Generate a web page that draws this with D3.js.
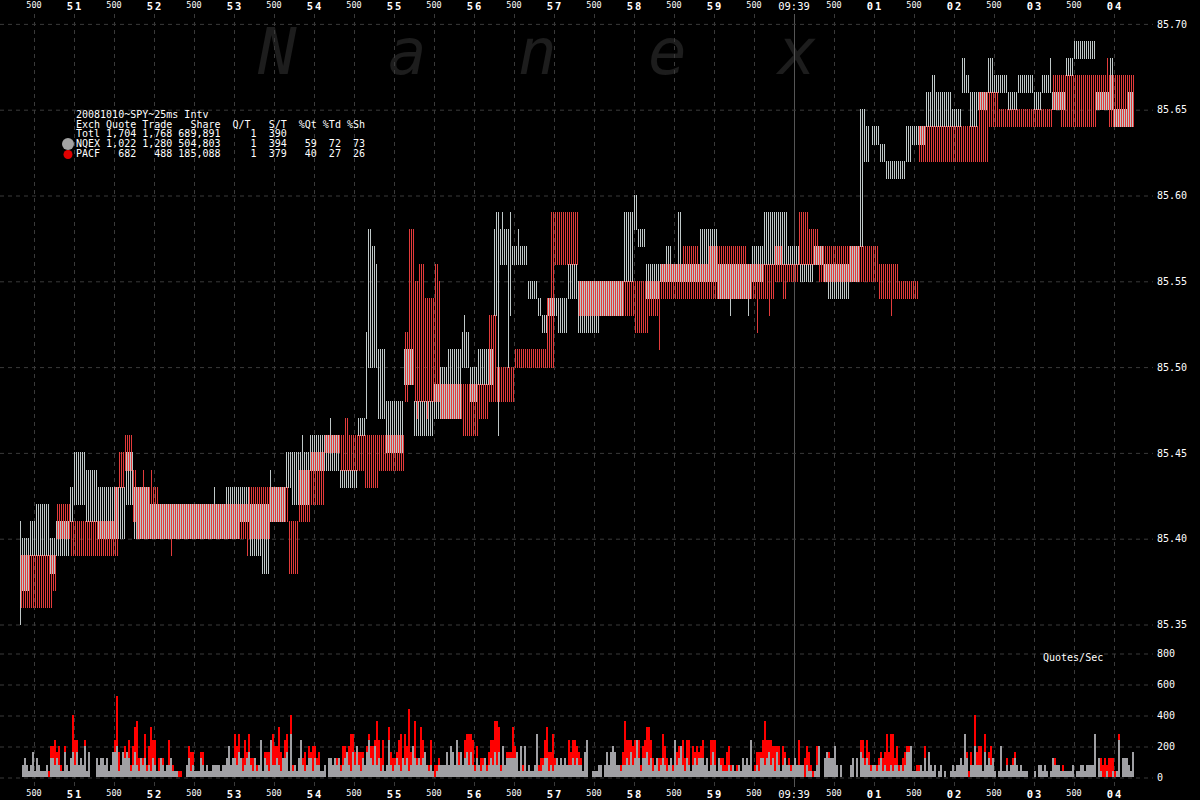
<!DOCTYPE html>
<html><head><meta charset="utf-8">
<script src="https://cdn.jsdelivr.net/npm/d3@7"></script>
<style>
html,body{margin:0;padding:0;background:#000;}
svg{display:block;}
text{font-family:"DejaVu Sans Mono",monospace;}
</style></head>
<body><svg id="chart" width="1200" height="800"></svg>
<script>
// ---- DATA (time = seconds after 09:38:50, prices in $) ----
const halfLabel = "500";
const secondLabels = ["51","52","53","54","55","56","57","58","59","09:39","01","02","03","04"];
const priceTicks = [85.35, 85.40, 85.45, 85.50, 85.55, 85.60, 85.65, 85.70];
const volumeTicks = [0, 200, 400, 600, 800];
const intervalSec = 0.025;

// quote ranges per 25ms interval: [tStart, tEnd, low, high]
const nqexQuotes = [
[0.325,0.35,85.35,85.41],[0.35,0.45,85.37,85.40],[0.45,0.525,85.39,85.41],[0.525,0.70,85.39,85.42],
[0.70,0.775,85.38,85.40],[0.775,0.95,85.39,85.41],[0.95,1.0,85.41,85.43],[1.0,1.15,85.42,85.45],
[1.15,1.30,85.41,85.44],[1.30,1.65,85.40,85.43],[1.65,1.75,85.42,85.45],[1.75,1.95,85.40,85.43],
[1.95,2.75,85.40,85.42],[2.75,2.775,85.40,85.43],[2.775,2.90,85.40,85.42],[2.90,3.075,85.40,85.43],
[3.075,3.20,85.41,85.43],[3.20,3.35,85.39,85.42],[3.35,3.45,85.38,85.42],[3.45,3.475,85.41,85.44],
[3.475,3.65,85.41,85.43],[3.65,3.725,85.43,85.45],[3.725,3.95,85.42,85.45],[3.85,3.875,85.42,85.46],
[3.95,4.125,85.44,85.46],[4.125,4.325,85.44,85.46],[4.20,4.225,85.44,85.47],[4.325,4.55,85.43,85.44],
[4.55,4.65,85.46,85.47],[4.65,4.675,85.47,85.52],[4.675,4.725,85.50,85.58],[4.725,4.775,85.50,85.57],
[4.775,4.80,85.50,85.56],[4.80,4.90,85.47,85.51],[4.90,5.125,85.45,85.48],[5.125,5.25,85.49,85.51],
[5.25,5.50,85.46,85.48],[5.50,5.575,85.47,85.49],[5.575,5.675,85.47,85.50],[5.675,5.85,85.47,85.51],
[5.85,5.95,85.50,85.52],[5.875,5.90,85.50,85.53],[5.95,6.05,85.48,85.50],[6.05,6.25,85.49,85.51],
[6.25,6.325,85.53,85.58],[6.275,6.30,85.53,85.59],[6.30,6.325,85.46,85.59],[6.325,6.45,85.56,85.58],
[6.35,6.375,85.56,85.59],[6.425,6.45,85.50,85.58],[6.45,6.475,85.53,85.59],[6.475,6.675,85.56,85.57],
[6.55,6.575,85.56,85.58],[6.675,6.80,85.54,85.55],[6.80,6.85,85.53,85.54],[6.85,6.925,85.52,85.53],
[6.925,7.05,85.53,85.54],[7.05,7.175,85.52,85.54],[7.175,7.30,85.54,85.56],[7.30,7.575,85.52,85.55],
[7.575,7.875,85.53,85.55],[7.875,8.0,85.55,85.59],[8.0,8.05,85.58,85.60],[8.05,8.15,85.57,85.58],
[8.15,8.325,85.54,85.56],[8.325,8.40,85.55,85.56],[8.40,8.475,85.55,85.57],[8.475,8.55,85.55,85.56],
[8.55,8.60,85.55,85.59],[8.60,8.825,85.55,85.56],[8.825,9.05,85.55,85.58],[9.05,9.475,85.54,85.56],
[9.20,9.225,85.53,85.56],[9.425,9.45,85.53,85.56],[9.475,9.625,85.55,85.57],[9.625,9.925,85.56,85.59],
[9.925,10.075,85.56,85.57],[10.075,10.25,85.55,85.56],[10.25,10.375,85.56,85.57],[10.375,10.425,85.55,85.56],
[10.425,10.70,85.54,85.56],[10.70,10.825,85.55,85.57],[10.825,10.875,85.57,85.65],[10.875,10.95,85.62,85.64],
[10.875,10.90,85.62,85.65],[10.975,11.075,85.63,85.64],[11.075,11.15,85.62,85.63],[11.15,11.40,85.61,85.62],
[11.40,11.475,85.62,85.64],[11.475,11.65,85.63,85.64],[11.65,11.80,85.64,85.66],[11.725,11.775,85.64,85.67],
[11.80,11.975,85.64,85.66],[11.975,12.10,85.64,85.65],[12.10,12.15,85.66,85.68],[12.15,12.20,85.66,85.67],
[12.20,12.30,85.64,85.66],[12.30,12.425,85.65,85.66],[12.425,12.50,85.66,85.68],[12.50,12.675,85.66,85.67],
[12.675,12.80,85.65,85.66],[12.80,13.0,85.66,85.67],[13.0,13.10,85.65,85.66],[13.10,13.225,85.66,85.67],
[13.20,13.225,85.66,85.68],[13.225,13.40,85.65,85.66],[13.40,13.50,85.67,85.68],[13.50,13.775,85.68,85.69],
[13.775,13.95,85.65,85.66],[13.95,14.0,85.65,85.68],[14.0,14.175,85.64,85.65],[14.175,14.25,85.64,85.66]
];
const pacfQuotes = [
[0.325,0.725,85.36,85.39],[0.725,0.775,85.37,85.39],[0.775,0.95,85.40,85.42],[0.95,1.50,85.39,85.41],
[1.50,1.55,85.39,85.43],[1.55,1.625,85.43,85.45],[1.625,1.725,85.44,85.46],[1.725,1.775,85.41,85.44],
[1.775,2.05,85.40,85.43],[1.85,1.875,85.40,85.44],[1.95,1.975,85.40,85.44],[2.05,2.20,85.40,85.42],
[2.20,2.225,85.39,85.42],[2.225,3.15,85.40,85.42],[3.15,3.175,85.39,85.42],[3.175,3.45,85.40,85.43],
[3.45,3.675,85.41,85.43],[3.675,3.80,85.38,85.41],[3.80,3.95,85.41,85.44],[3.95,4.125,85.42,85.45],
[4.125,4.325,85.45,85.46],[4.325,4.375,85.44,85.46],[4.375,4.425,85.44,85.47],[4.425,4.625,85.44,85.46],
[4.625,4.80,85.43,85.46],[4.80,5.125,85.44,85.46],[5.125,5.175,85.48,85.52],[5.175,5.25,85.49,85.58],
[5.25,5.30,85.48,85.55],[5.275,5.30,85.47,85.55],[5.30,5.375,85.48,85.56],[5.375,5.50,85.48,85.54],
[5.40,5.425,85.47,85.54],[5.50,5.55,85.48,85.56],[5.55,5.575,85.48,85.55],[5.575,5.85,85.47,85.49],
[5.85,6.05,85.46,85.49],[6.05,6.175,85.47,85.49],[6.175,6.275,85.48,85.53],[6.275,6.50,85.48,85.50],
[6.50,6.90,85.50,85.51],[6.90,6.95,85.50,85.54],[6.95,7.0,85.50,85.59],[7.0,7.30,85.56,85.59],
[7.30,8.0,85.53,85.55],[8.0,8.175,85.52,85.55],[8.175,8.30,85.53,85.55],[8.30,8.325,85.51,85.55],
[8.325,8.60,85.54,85.56],[8.60,8.80,85.54,85.57],[8.80,8.925,85.54,85.56],[8.925,9.40,85.54,85.57],
[9.40,9.525,85.54,85.56],[9.525,9.55,85.52,85.56],[9.55,9.75,85.54,85.56],[9.675,9.70,85.53,85.56],
[9.75,9.85,85.55,85.57],[9.85,9.90,85.54,85.56],[9.90,10.05,85.55,85.56],[10.05,10.175,85.56,85.59],
[10.175,10.30,85.56,85.58],[10.30,11.05,85.55,85.57],[11.05,11.30,85.54,85.56],[11.20,11.225,85.53,85.56],
[11.30,11.55,85.54,85.55],[11.55,12.425,85.62,85.64],[12.30,12.425,85.64,85.66],[12.425,12.55,85.64,85.66],
[12.55,13.225,85.64,85.65],[13.225,13.325,85.65,85.67],[13.325,13.775,85.64,85.67],[13.775,13.90,85.65,85.67],
[13.90,13.925,85.65,85.68],[13.925,14.25,85.64,85.67]
];

// quotes per 25ms interval, first interval starts at 0.35 s
const volumeStart = 0.35;
const nqexCounts = [
2,3,2,1,2,4,1,3,2,1,1,1,2,0,
3,3,2,3,2,1,1,4,2,1,3,4,2,4,2,3,2,5,1,4,
0,0,0,
3,2,3,3,2,3,1,2,4,
4,5,1,2,4,3,4,3,1,2,
4,2,1,3,2,3,1,2,1,3,
2,1,1,3,2,1,2,2,3,1,1,1,
0,0,0,0,
2,3,1,2,1,1,1,3,2,1,2,1,1,2,
2,2,2,1,2,2,3,5,2,3,
3,2,4,3,1,2,3,4,2,1,
3,1,2,6,1,3,2,1,6,2,
2,3,2,1,3,3,4,1,7,1,
2,1,3,6,2,1,2,3,3,1,
3,2,2,1,1,2,0,3,3,2,
3,2,3,1,2,3,4,2,1,4,
2,5,2,1,3,2,4,6,3,2,
5,2,3,1,2,1,2,6,2,1,2,3,2,
1,3,2,3,1,2,5,3,2,3,
2,3,4,2,1,2,1,0,1,2,
2,2,2,4,2,5,4,2,6,2,
4,2,3,4,2,4,2,1,3,2,
1,2,3,1,2,3,2,4,2,4,
1,5,2,3,3,3,3,3,4,1,
5,1,5,1,2,1,1,2,7,1,
1,2,3,3,1,2,1,2,3,2,
3,2,3,2,2,2,3,2,3,2,
2,1,4,6,0,0,1,1,1,2,
2,0,2,4,2,4,5,4,2,2,
1,2,2,3,2,4,2,3,6,3,
1,3,3,4,2,3,1,2,3,1,
2,3,2,1,2,3,1,6,2,3,
5,2,1,3,2,1,2,3,2,3,
3,3,2,3,1,2,4,2,1,3,
2,1,1,1,2,1,2,1,1,2,
1,3,2,3,2,6,1,1,2,1,
3,3,2,3,4,2,3,1,4,2,
1,2,3,2,2,1,2,3,2,2,
2,2,0,2,1,1,0,1,2,5,
0,0,3,4,3,3,3,5,2,0,
2,0,0,0,0,2,3,0,3,0,
4,3,2,3,2,1,2,2,1,2,
3,1,2,1,1,2,1,2,2,1,
2,1,2,4,4,5,1,1,1,1,
2,1,3,1,4,2,1,2,0,1,
2,0,1,0,0,1,2,1,2,2,
3,2,7,3,0,2,2,5,2,2,
2,1,4,2,3,2,3,1,0,1,
5,1,1,2,1,2,2,3,2,1,
2,1,1,1,0,0,0,1,0,2,
2,1,2,1,0,1,3,2,2,2,
1,1,1,1,1,1,2,0,1,1,
2,2,1,2,2,2,2,7,0,3,
1,0,0,1,0,0,1,0,1,6,
0,3,3,3,2,1,4,0
];
const pacfCounts = [
0,0,0,0,0,0,0,0,0,0,0,0,0,1,
2,2,4,1,3,1,0,1,0,0,0,6,4,2,0,0,0,1,0,0,
0,0,0,
0,0,0,0,0,0,0,0,0,
2,8,3,0,0,2,0,3,1,3,
4,7,2,0,1,4,1,3,7,3,
4,0,2,0,1,0,0,4,0,1,0,0,
1,1,0,0,
0,2,3,2,0,0,0,1,2,0,0,0,0,0,
0,0,0,0,0,0,0,0,0,0,
4,3,3,0,2,4,1,3,1,2,
0,1,0,0,0,1,2,3,0,5,
3,2,6,3,0,3,3,0,3,1,
0,0,0,0,1,3,0,2,1,4,
2,1,2,0,0,0,0,0,0,0,
0,1,0,1,3,2,0,3,6,3,
2,0,2,3,1,0,1,1,2,3,
1,7,3,2,4,0,0,2,2,2,1,1,4,
6,0,5,2,10,2,0,6,1,0,
6,3,0,0,1,4,0,2,1,1,
0,0,0,0,0,0,0,0,0,2,
0,0,3,3,5,3,4,1,2,0,
2,1,0,1,2,3,4,5,7,4,
1,0,0,1,1,1,5,2,0,0,
0,1,0,0,0,0,0,0,0,1,
2,1,3,5,3,2,6,1,0,0,
0,0,0,0,4,2,3,4,2,2,
1,0,0,0,0,0,0,0,0,0,
0,0,0,0,0,0,0,0,0,0,
1,2,7,3,4,2,3,3,0,3,
1,2,3,4,6,3,2,0,0,2,
1,4,3,2,0,0,1,0,2,2,
0,4,2,3,4,0,3,1,3,1,
2,3,0,0,0,4,2,4,0,0,
1,2,1,3,3,1,0,0,1,0,
0,0,0,0,0,0,0,1,2,3,
1,3,7,3,2,4,2,4,1,3,
0,3,1,0,1,1,0,0,0,4,
0,0,3,3,3,1,1,0,3,0,
0,0,0,0,1,0,0,0,0,0,
0,0,0,0,0,0,0,0,0,0,
2,3,1,3,2,1,0,0,1,1,
1,2,2,6,3,5,6,1,3,1,
0,2,2,1,1,0,0,0,1,1,
0,0,2,0,0,0,0,0,0,0,
0,0,0,0,0,0,0,0,0,0,
0,0,0,1,1,2,0,5,2,3,
3,0,3,0,1,3,0,0,0,0,
0,0,0,1,0,0,1,1,0,0,
0,0,0,0,0,0,0,0,0,0,
0,0,0,0,0,0,0,1,0,0,
0,1,0,0,0,0,0,0,0,0,
0,0,0,0,0,0,0,0,0,0,
2,2,3,1,3,3,2,1,0,1,
0,0,0,0,0,0,0,0
];

const legendTitle = "20081010~SPY~25ms Intv";
const legendHeader = "Exch Quote Trade   Share  Q/T   S/T  %Qt %Td %Sh";
const legendRows = [
  "Totl 1,704 1,768 689,891     1  390",
  "NQEX 1,022 1,280 504,803     1  394   59  72  73",
  "PACF   682   488 185,088     1  379   40  27  26"
];
const watermark = ["N","a","n","e","x"];

// ---- COLOURS ----
const C = {gridDash:"#3a3a3a", text:"#ffffff", nqexLine:"#bfc8c8", pacfLine:"#e23b3b",
           nqexVol:"#a0a0a4", pacfVol:"#ff0000", mark:"#1d1d1d", nowLine:"#555"};

// ---- SCALES ----
const svg = d3.select("#chart");
svg.append("rect").attr("width",1200).attr("height",800).attr("fill","#000");
const x = d3.scaleLinear().domain([0, 15]).range([-6, 1194]);
const y = d3.scaleLinear().domain([85.35, 85.70]).range([624, 23.4]);
const yv = d3.scaleLinear().domain([0, 800]).range([777, 653]);

// watermark
const wmG = svg.append("g");
const wmPos = d3.scalePoint().domain(d3.range(watermark.length)).range([258, 778]);
watermark.forEach((ch,i)=>{
  wmG.append("text").attr("x", wmPos(i)).attr("y", 74).text(ch)
    .attr("font-family","'DejaVu Sans',sans-serif").attr("font-style","italic")
    .attr("font-size",64).attr("fill",C.mark);
});

// time ticks
const timeTicks = [];
secondLabels.forEach((lab,i)=>{
  timeTicks.push({t:i+0.5, label:halfLabel, half:true});
  timeTicks.push({t:i+1, label:lab, half:false});
});

// vertical grid
const vg = svg.append("g");
timeTicks.forEach(d=>{
  const xx = Math.round(x(d.t)) + 0.5;
  const now = d.label === "09:39";
  vg.append("line").attr("x1",xx).attr("x2",xx).attr("y1",14).attr("y2",787)
    .attr("stroke", now ? C.nowLine : C.gridDash)
    .attr("stroke-dasharray", now ? null : "4,4");
});

// price axis with grid
const pAxis = d3.axisRight(y).tickValues(priceTicks).tickSize(1153).tickPadding(4)
  .tickFormat(d3.format(".2f"));
const pg = svg.append("g").attr("transform","translate(0,0.5)").call(pAxis);
pg.select(".domain").remove();
pg.selectAll("line").attr("stroke",C.gridDash).attr("stroke-dasharray","4,4");
pg.selectAll("text").attr("fill",C.text).attr("font-size",10)
  .attr("font-family","'DejaVu Sans Mono',monospace");

// volume axis with grid
const vAxis = d3.axisRight(yv).tickValues(volumeTicks).tickSize(1153).tickPadding(4)
  .tickFormat(d3.format("d"));
const vgA = svg.append("g").attr("transform","translate(0,0.5)").call(vAxis);
vgA.select(".domain").remove();
vgA.selectAll("line").attr("stroke",C.gridDash).attr("stroke-dasharray","4,4");
vgA.selectAll("text").attr("fill",C.text).attr("font-size",10)
  .attr("font-family","'DejaVu Sans Mono',monospace");

svg.append("text").attr("x",1043).attr("y",661).text("Quotes/Sec")
  .attr("fill",C.text).attr("font-size",10);

// time labels top & bottom
[{h:8,b:10},{h:796,b:798}].forEach(row=>{
  timeTicks.forEach(d=>{
    const t = svg.append("text").attr("x", x(d.t)).attr("text-anchor","middle")
      .attr("fill",C.text).text(d.label);
    if (d.half) t.attr("y",row.h).attr("font-size",8.5);
    else if (d.label.length>2) t.attr("y",row.b).attr("font-size",10.5);
    else t.attr("y",row.b).attr("font-size",10.5).attr("font-weight","bold")
          .attr("letter-spacing","2px").attr("dx",1);
  });
});

// quote range lines
function expand(runs){
  const out=[];
  runs.forEach(([t0,t1,lo,hi])=>{
    const k0=Math.round(t0/intervalSec), k1=Math.max(Math.round(t1/intervalSec),k0+1);
    for(let k=k0;k<k1;k++) out.push({t:k*intervalSec, lo, hi});
  });
  return out;
}
function drawQuotes(runs, off, color){
  svg.append("g").attr("shape-rendering","crispEdges").selectAll("rect")
    .data(expand(runs)).join("rect")
    .attr("x", d=>x(d.t)+off).attr("width",1)
    .attr("y", d=>Math.round(y(d.hi)))
    .attr("height", d=>Math.max(1, Math.round(y(d.lo))-Math.round(y(d.hi))+1))
    .attr("fill", color);
}
drawQuotes(nqexQuotes, 0, C.nqexLine);
drawQuotes(pacfQuotes, 1, C.pacfLine);

// volume bars (stacked, quotes/sec)
const vol = nqexCounts.map((g,i)=>({t: volumeStart + i*intervalSec,
  g: g/ intervalSec, r: (pacfCounts[i]||0)/intervalSec}));
const volG = svg.append("g").attr("shape-rendering","crispEdges");
volG.selectAll("rect.g").data(vol.filter(d=>d.g>0)).join("rect").attr("class","g")
  .attr("x",d=>x(d.t)).attr("width",2)
  .attr("y",d=>Math.round(yv(d.g))).attr("height",d=>yv(0)-Math.round(yv(d.g)))
  .attr("fill",C.nqexVol);
volG.selectAll("rect.r").data(vol.filter(d=>d.r>0)).join("rect").attr("class","r")
  .attr("x",d=>x(d.t)).attr("width",2)
  .attr("y",d=>Math.round(yv(d.g+d.r))).attr("height",d=>Math.round(yv(d.g))-Math.round(yv(d.g+d.r)))
  .attr("fill",C.pacfVol);

// legend
const lg = svg.append("g").attr("font-size",10).attr("fill",C.text);
const legLines = [legendTitle, legendHeader].concat(legendRows);
const legY = d3.scaleLinear().domain([0,4]).range([118,156.8]);
legLines.forEach((s,i)=>{
  lg.append("text").attr("x",76).attr("y",legY(i)).attr("xml:space","preserve")
    .style("white-space","pre").text(s);
});
svg.append("circle").attr("cx",68).attr("cy",144).attr("r",6).attr("fill","#a3a3a3");
svg.append("circle").attr("cx",68).attr("cy",154.5).attr("r",4.5).attr("fill","#e00000");
</script></body></html>
